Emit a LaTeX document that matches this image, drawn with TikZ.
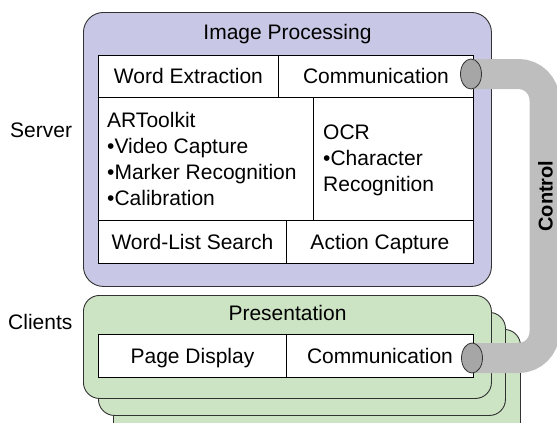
\documentclass[tikz,border=0pt]{standalone}
\usepackage{fontspec}
\setmainfont{Liberation Sans}
\definecolor{serverfill}{RGB}{200,200,230}
\definecolor{clientfill}{RGB}{204,228,196}
\definecolor{pipegray}{RGB}{190,190,190}
\definecolor{plugfill}{RGB}{166,166,166}
\definecolor{edge}{RGB}{50,50,50}
\usetikzlibrary{shapes.geometric}
\begin{document}
\begin{tikzpicture}[x=1pt,y=-1pt,
  font=\fontsize{21}{26}\selectfont,
  panel/.style={draw=edge, line width=0.9pt, rounded corners=20pt, anchor=north west, inner sep=0pt},
  server/.style={panel, fill=serverfill},
  client/.style={panel, fill=clientfill, rounded corners=16pt},
  cell/.style={draw=black, line width=0.9pt, fill=white, inner sep=0pt, anchor=north west,
    text height=15pt, text depth=0pt},
  listtext/.style={align=left, inner sep=0pt, anchor=north west},
  caption/.style={inner sep=0pt, text height=15pt, text depth=0pt},
  plug/.style={ellipse, draw=edge, line width=0.8pt, fill=plugfill, minimum width=21pt, minimum height=30pt, inner sep=0pt},
  pipe/.style={draw=pipegray, line width=30pt, rounded corners=26pt}]
\useasboundingbox (0,0) rectangle (557,423);

% server panel
\node[server, minimum width=408pt, minimum height=274pt] (server) at (83,12) {};
\node[caption, anchor=base] (imgproc) at (287.5,39) {Image Processing};

% server modules
\node[cell, minimum width=180pt, minimum height=42pt] (wordext) at (98,55) {Word Extraction};
\node[cell, minimum width=195pt, minimum height=42pt] (scomm) at (278,55) {Communication};
\node[cell, minimum width=215pt, minimum height=123pt] (artk) at (98,97) {};
\node[cell, minimum width=160pt, minimum height=123pt] (ocr) at (313,97) {};
\node[cell, minimum width=188pt, minimum height=43pt] (wlsearch) at (98,220) {Word-List Search};
\node[cell, minimum width=187pt, minimum height=43pt] (action) at (286,220) {Action Capture};
\node[listtext] (artktext) at (107,112) {ARToolkit\\•Video Capture\\•Marker Recognition\\•Calibration};
\node[listtext] (ocrtext) at (323,125) {OCR\\•Character\\Recognition};

% client panels, stacked
\node[client, minimum width=407pt, minimum height=110pt] (client3) at (113,329) {};
\node[client, minimum width=407pt, minimum height=103pt] (client2) at (98,312) {};
\node[client, minimum width=408pt, minimum height=103pt] (client1) at (83,295) {};
\node[caption, anchor=base] (present) at (287.5,320) {Presentation};
\node[cell, minimum width=188pt, minimum height=43pt] (pagedisp) at (98,334) {Page Display};
\node[cell, minimum width=187pt, minimum height=43pt] (ccomm) at (286,334) {Communication};

% side labels
\node[caption, anchor=west] (serverlbl) at (10,130) {Server};
\node[caption, anchor=west] (clientlbl) at (8,322) {Clients};

% control channel
\coordinate (sport) at (471,74);
\coordinate (cport) at (472,358);
\coordinate (bendtop) at (544.5,74);
\coordinate (bendbot) at (544.5,358);
\draw[pipe] (sport) -- (bendtop) -- (bendbot) -- (cport);
\node[plug] (splug) at (sport) {};
\node[plug] (cplug) at (cport) {};
\node[caption, rotate=90, font=\fontsize{20}{24}\selectfont\bfseries] (control) at (545,196) {Control};
\end{tikzpicture}
\end{document}
